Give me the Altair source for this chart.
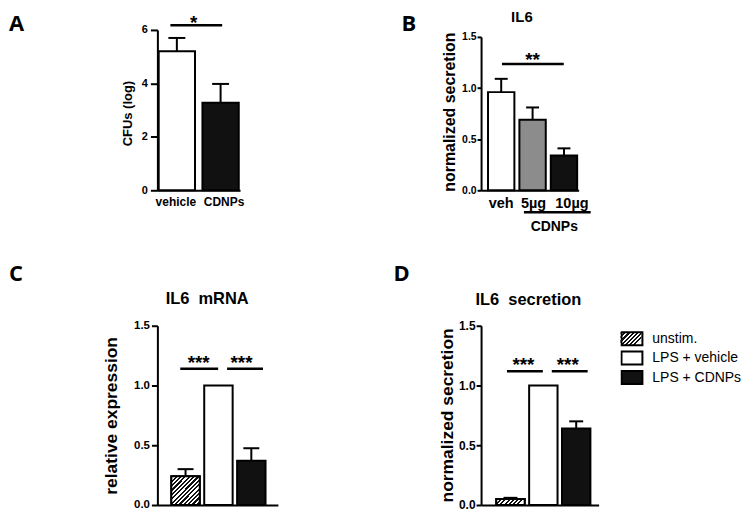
import altair as alt
import pandas as pd

FONT = "Liberation Sans"
LETTER_FONT = "Open Sans"

# ---------------- data ----------------
# Panel A
a_groups = ["vehicle", "CDNPs"]
a_mean = [5.20, 3.28]
a_sem = [0.50, 0.70]
a_ticks = [0, 2, 4, 6]
a_sig_y = 6.18

# Panel B
b_groups = ["veh", "5µg", "10µg"]
b_mean = [0.96, 0.69, 0.34]
b_sem = [0.13, 0.12, 0.07]
b_ticks = [0.0, 0.5, 1.0, 1.5]
b_sig_y = 1.235
b_under_y = -0.214
b_under_text_y = -0.40

# Panels C and D
cd_groups = ["unstim.", "LPS + vehicle", "LPS + CDNPs"]
c_mean = [0.24, 1.00, 0.37]
c_sem = [0.06, 0.00, 0.105]
d_mean = [0.05, 1.00, 0.64]
d_sem = [0.01, 0.00, 0.06]
cd_ticks = [0.0, 0.5, 1.0, 1.5]
c_sig_y = 1.14
d_sig_y = 1.12

# ---------------- styles ----------------
a_colors = ["#ffffff", "#111111"]
b_colors = ["#ffffff", "#8c8c8c", "#111111"]
cd_colors = ["transparent", "#ffffff", "#111111"]  # unstim. is drawn hatched


def hatch(n, dy):
    stops = []
    for i in range(n):
        a, b, c = i / n, (i + 0.5) / n, (i + 1) / n
        stops += [
            alt.GradientStop(color="#111111", offset=a),
            alt.GradientStop(color="#111111", offset=b),
            alt.GradientStop(color="#ffffff", offset=b),
            alt.GradientStop(color="#ffffff", offset=c),
        ]
    return alt.LinearGradient(gradient="linear", stops=stops, x1=0, y1=0, x2=1, y2=dy)


def panel(groups, means, sems, colors, ticks, *, width, height, ydomain, yrange=None,
          p_in, p_out, align, ytitle, ytitle_size, ytitle_x, ytitle_y, tick_size,
          label_pad, ylabel_size, fmt, xlabels, xlabel_size, cap, legend=None,
          hatch_fill=None, xlabel_offset=0):
    df = pd.DataFrame({"group": groups, "mean": means,
                       "top": [m + s for m, s in zip(means, sems)]})
    xscale = alt.Scale(domain=groups, paddingInner=p_in, paddingOuter=p_out, align=align)
    xaxis = alt.Axis(title=None, ticks=False, labels=xlabels, labelAngle=0,
                     labelFontSize=xlabel_size, labelFontWeight="bold", labelFont=FONT,
                     labelColor="black", labelPadding=6, labelOffset=xlabel_offset,
                     domainColor="black", domainWidth=2, grid=False)
    ysc = dict(domain=ydomain, nice=False, zero=False)
    if yrange is not None:
        ysc["range"] = yrange
    yscale = alt.Scale(**ysc)
    yaxis = alt.Axis(values=ticks, format=fmt, title=ytitle, titleFontSize=ytitle_size,
                     titleFont=FONT, titleFontWeight="bold", titleColor="black",
                     titleX=ytitle_x, titleY=ytitle_y, titleAngle=270,
                     titleBaseline="alphabetic", titleAlign="center",
                     labelFontSize=ylabel_size, labelFont=FONT, labelFontWeight="bold",
                     labelColor="black", labelPadding=label_pad, labelFlush=False,
                     tickSize=tick_size, tickWidth=2, tickColor="black",
                     domainColor="black", domainWidth=2, grid=False)

    def X(f):
        return alt.X(f + ":N", scale=xscale, axis=xaxis)

    def Y(f):
        return alt.Y(f + ":Q", scale=yscale, axis=yaxis)

    fill = alt.Fill("group:N", scale=alt.Scale(domain=groups, range=colors),
                    legend=legend)
    layers = [alt.Chart(df).mark_bar(stroke="black", strokeWidth=2).encode(
        x=X("group"), y=Y("mean"), fill=fill)]
    if hatch_fill is not None:
        layers.append(alt.Chart(df).transform_filter(alt.datum.group == groups[0])
                      .mark_bar(fill=hatch_fill, stroke="black", strokeWidth=2)
                      .encode(x=X("group"), y=Y("mean")))
    err = alt.Chart(df).transform_filter(alt.datum.top > alt.datum.mean)
    layers.append(err.mark_rule(color="black", strokeWidth=2).encode(
        x=X("group"), y=Y("mean"), y2=alt.Y2("top")))
    layers.append(err.mark_tick(color="black", size=cap, thickness=2, opacity=1,
                                orient="horizontal").encode(x=X("group"), y=Y("top")))
    return X, Y, layers


def sig(X, Y, g1, g2, yv, label, off1, off2, star_dx, star_dy, star_size=19):
    d = pd.DataFrame({"g1": [g1], "g2": [g2], "y": [yv], "lab": [label]})
    line = alt.Chart(d).mark_rule(color="black", strokeWidth=2.5, xOffset=off1,
                                  x2Offset=off2).encode(x=X("g1"), x2=alt.X2("g2"), y=Y("y"))
    star = alt.Chart(d).mark_text(font=FONT, fontSize=star_size, fontWeight="bold",
                                  color="black", align="center", baseline="alphabetic",
                                  dx=star_dx, dy=star_dy).encode(x=X("g1"), y=Y("y"), text="lab:N")
    return [line, star]


def label(text, x, y, size, font=FONT, align="left"):
    return alt.Chart(pd.DataFrame({"t": [text]})).mark_text(
        font=font, fontSize=size, fontWeight="bold", color="black", align=align,
        baseline="alphabetic").encode(x=alt.value(x), y=alt.value(y), text="t:N")


# ---------------- Panel A ----------------
XA, YA, la = panel(a_groups, a_mean, a_sem, a_colors, a_ticks, width=83, height=161,
                   ydomain=[0, 6], p_in=0.17, p_out=0.03, align=0.5,
                   ytitle="CFUs (log)", ytitle_size=13, ytitle_x=-26, ytitle_y=83.5,
                   tick_size=7, label_pad=3, ylabel_size=11, fmt="d", xlabels=True,
                   xlabel_size=12,
                   xlabel_offset={"condition": {"test": "datum.value == 'CDNPs'", "value": 3.5},
                                  "value": -1},
                   cap=17)
la += sig(XA, YA, "vehicle", "CDNPs", a_sig_y, "*", -6.5, 1.6, 17, 4)
la.append(label("A", -149, 1, 22, LETTER_FONT))
chart_a = alt.layer(*la).properties(width=83, height=161)

# ---------------- Panel B ----------------
XB, YB, lb = panel(b_groups, b_mean, b_sem, b_colors, b_ticks, width=98, height=161,
                   ydomain=[0, 1.5], yrange=[161, 7], p_in=0.16, p_out=0.135, align=0.82,
                   ytitle="normalized secretion", ytitle_size=16, ytitle_x=-27,
                   ytitle_y=82, tick_size=4, label_pad=1, ylabel_size=10.5, fmt=".1f",
                   xlabels=True, xlabel_size=14.5,
                   xlabel_offset={"condition": [{"test": "datum.value == '10µg'", "value": 8},
                                                {"test": "datum.value == '5µg'", "value": 1}],
                                  "value": 0},
                   cap=13)
lb += sig(XB, YB, "veh", "10µg", b_sig_y, "**", 0.8, -0.2, 31.5, 2.5)
d_under = pd.DataFrame({"g1": ["5µg"], "g2": ["10µg"], "y": [b_under_y],
                        "ty": [b_under_text_y], "lab": ["CDNPs"]})
lb.append(alt.Chart(d_under).mark_rule(color="black", strokeWidth=2.5, xOffset=-8.7,
                                       x2Offset=26.8).encode(x=XB("g1"), x2=alt.X2("g2"), y=YB("y")))
lb.append(alt.Chart(d_under).mark_text(font=FONT, fontSize=14, fontWeight="bold",
                                       color="black", align="center", baseline="alphabetic",
                                       dx=21.8).encode(x=XB("g1"), y=YB("ty"), text="lab:N"))
lb.append(label("B", -80, 1, 22, LETTER_FONT))
lb.append(label("IL6", 41, -8, 15, FONT, "center"))
chart_b = alt.layer(*lb).properties(width=98, height=161)

# ---------------- Panel C ----------------
XC, YC, lc = panel(cd_groups, c_mean, c_sem, cd_colors, cd_ticks, width=121, height=180,
                   ydomain=[0, 1.5], p_in=0.136, p_out=0.40, align=0.53,
                   ytitle="relative expression", ytitle_size=17.5, ytitle_x=-41,
                   ytitle_y=90, tick_size=6, label_pad=2, ylabel_size=11.5, fmt=".1f",
                   xlabels=False, xlabel_size=12, cap=16, legend=None,
                   hatch_fill=hatch(13, 1.0))
lc += sig(XC, YC, "unstim.", "LPS + vehicle", c_sig_y, "***", -5.3, -0.3, 13.2, 0.5)
lc += sig(XC, YC, "LPS + vehicle", "LPS + CDNPs", c_sig_y, "***", 8.7, 11.7, 23.2, 0.5)
lc.append(label("C", -149, -45, 22, LETTER_FONT))
lc.append(label("IL6 \u00a0mRNA", 50, -22, 16.5, FONT, "center"))
chart_c = alt.layer(*lc).properties(width=121, height=180)

# ---------------- Panel D ----------------
LEG_X, LEG_Y, CLIP_H, ROW_PAD = 140, 4.5, 17, 2.5
d_legend = alt.Legend(orient="none", legendX=LEG_X, legendY=LEG_Y, title=None, padding=0,
                      symbolType="M-1,-0.62H1V0.62H-1Z", symbolSize=441,
                      symbolStrokeColor="black", symbolStrokeWidth=2,
                      labelFont=FONT, labelFontSize=14, labelColor="black",
                      labelOffset=9, rowPadding=ROW_PAD, clipHeight=CLIP_H)
XD, YD, ld = panel(cd_groups, d_mean, d_sem, cd_colors, cd_ticks, width=118, height=180,
                   ydomain=[0, 1.5], p_in=0.136, p_out=0.356, align=0.65,
                   ytitle="normalized secretion", ytitle_size=17.5, ytitle_x=-29,
                   ytitle_y=89.5, tick_size=5, label_pad=1, ylabel_size=12, fmt=".1f",
                   xlabels=False, xlabel_size=12, cap=14, legend=d_legend,
                   hatch_fill=hatch(7, 0.21))
# hatched fill that shows through the (transparent) first legend swatch
swatch_cy = LEG_Y + CLIP_H / 2
ld.insert(0, alt.Chart(pd.DataFrame({"k": [cd_groups[0]]})).mark_rect(fill=hatch(7, 0.62))
          .encode(x=alt.value(LEG_X), x2=alt.value(LEG_X + 21),
                  y=alt.value(swatch_cy - 6.5), y2=alt.value(swatch_cy + 6.5)))
ld += sig(XD, YD, "unstim.", "LPS + vehicle", d_sig_y, "***", -3.5, -0.5, 13, -0.5)
ld += sig(XD, YD, "LPS + vehicle", "LPS + CDNPs", d_sig_y, "***", 8.5, 11.5, 24.5, -0.5)
ld.append(label("D", -88, -45, 22, LETTER_FONT))
ld.append(label("IL6 \u00a0secretion", 47.5, -21, 16.5, FONT, "center"))
chart_d = alt.layer(*ld).properties(width=118, height=180)

top = alt.hconcat(chart_a, chart_b, spacing=242, bounds="flush").resolve_scale(fill="independent")
bottom = alt.hconcat(chart_c, chart_d, spacing=204, bounds="flush").resolve_scale(fill="independent")
# nested concat groups count as zero height under flush bounds, so the spacing
# here spans the whole top row plus the gap between the rows
chart = (alt.vconcat(top, bottom, spacing=297, bounds="flush")
         .resolve_scale(fill="independent")
         .properties(padding=0)
         .configure_view(stroke="transparent"))

chart.save("out.html", embed_options={"renderer": "svg", "actions": False})
